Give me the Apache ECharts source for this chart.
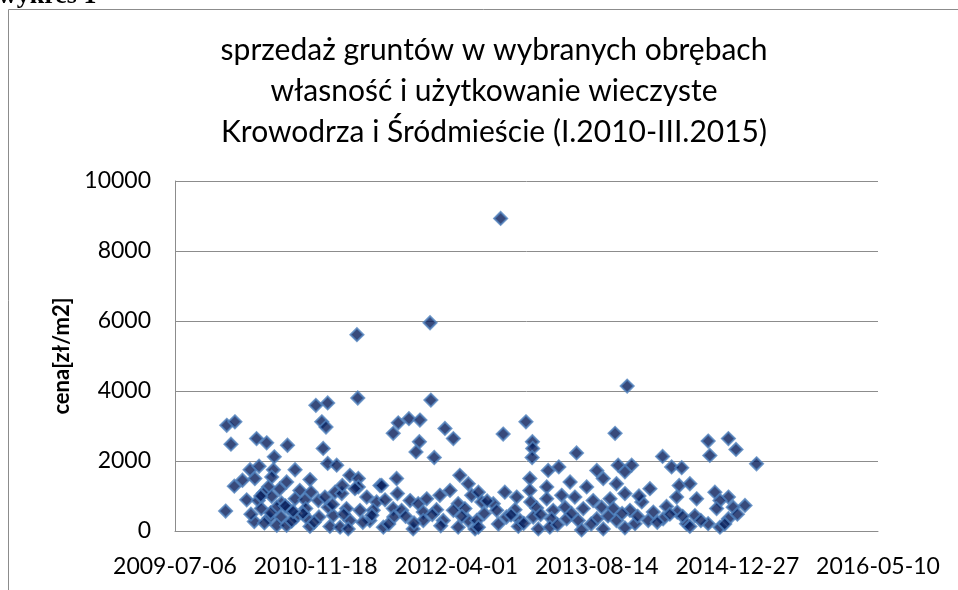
<!doctype html>
<html lang="pl">
<head>
    <meta charset="UTF-8">
    <title>wykres 1</title>
    <script src="https://cdn.jsdelivr.net/npm/echarts@6/dist/echarts.min.js"></script>
    <style>
        html, body { margin: 0; padding: 0; background: #fff; }
        #main { width: 958px; height: 590px; }
    </style>
</head>
<body>
<div id="main"></div>
<script type="text/javascript">
    // daty jako numery seryjne Excela (40000 = 2009-07-06)
    var saleDays = [
        41158, 40907, 40647, 40650, 40910, 41608, 40501, 40543, 40184, 40213,
        40522, 40537, 40794, 40832, 40871, 40960, 41248, 41167, 40199, 40290,
        40326, 40400, 40527, 40353, 40776, 40990, 40869, 40857, 40922, 41271,
        41272, 41270, 41428, 41565, 41896, 41902, 41968, 41995, 41734, 42068,
        40267, 40299, 40350, 40427, 40543, 40575, 40284, 40344, 40480, 40622,
        40652, 40788, 41013, 41043, 41327, 41365, 41500, 41523, 41262, 41576,
        41624, 41600, 41766, 41802, 41405,
        40211, 40397, 40332, 40444, 40314, 40484, 40569, 40593, 40652, 40729,
        40791, 40595, 40640, 40735, 40942, 40978, 41055, 41079, 41173, 41262,
        41322, 41464, 41570, 41689, 41793, 41831, 41600, 41920,
        40255, 40296, 40344, 40379, 40427, 40462, 40510, 40533, 40307, 40362,
        40403, 40465, 40545, 40180, 40682, 40717, 40747, 40836, 40865, 40895,
        41007, 40610, 40658, 40705, 40776, 40806, 40883, 40930, 40990, 41031,
        41215, 41091, 41132, 41265, 41322, 41375, 41422, 41487, 41547, 41144,
        41209, 41286, 41345, 41387, 41452, 41517, 41855, 41784, 41660, 41968,
        42027, 41938, 41985, 41559, 41618, 41701, 41748, 41786, 41926,
        40335, 40377, 40430, 40468, 40512, 40563, 40282, 40362, 40397, 40480,
        40551, 40587, 40622, 40693, 40778, 40883, 40954, 41043, 40616, 40741,
        40847, 41007, 41067, 41073, 41179, 41227, 41274, 41339, 41393, 41434,
        41500, 41079, 41221, 41292, 41333, 41446, 41523, 41849, 41968, 41570,
        41636, 41683, 41736, 41819, 41896, 41938, 41600, 41831,
        40270, 40318, 40340, 40372, 40392, 40415, 40455, 40495, 40560, 40600,
        40668, 40700, 40760, 40820, 40850, 40915, 40945, 41020, 41100, 41150,
        41195, 41240, 41300, 41360, 41410, 41480, 41540, 41590, 41645, 41715,
        41760, 41805, 41870, 41955, 42000, 40240, 40305, 40420, 41110, 41650
    ];
    // cena [zł/m2]
    var prices = [
        8930, 5950, 5610, 3800, 3740, 4140, 3590, 3660, 3020, 3120,
        3120, 2970, 3090, 3210, 3170, 2930, 3120, 2770, 2480, 2640,
        2520, 2450, 2360, 2120, 2790, 2640, 2550, 2260, 2100, 2550,
        2360, 2100, 2230, 2790, 2570, 2160, 2640, 2330, 2130, 1920,
        1750, 1850, 1750, 1750, 1930, 1880, 1500, 1540, 1470, 1590,
        1500, 1500, 1590, 1350, 1730, 1830, 1730, 1500, 1500, 1880,
        1880, 1690, 1830, 1810, 1400,
        1280, 1400, 1260, 1160, 1080, 1110, 1110, 1070, 1260, 1300,
        1070, 1300, 1210, 1300, 1020, 1160, 1020, 1110, 1110, 1160,
        1260, 1260, 1350, 1210, 1300, 1350, 1070, 1110,
        890, 870, 990, 800, 920, 890, 870, 970, 640, 680,
        640, 640, 680, 570, 970, 830, 890, 870, 780, 920,
        780, 640, 590, 590, 640, 590, 540, 610, 590, 640,
        970, 830, 780, 830, 920, 1020, 970, 870, 920, 590,
        610, 660, 590, 680, 640, 680, 920, 970, 830, 970,
        730, 870, 680, 640, 590, 540, 700, 540, 640,
        370, 400, 400, 380, 400, 440, 270, 160, 160, 130,
        130, 110, 300, 300, 400, 300, 300, 300, 60, 110,
        60, 110, 60, 300, 400, 300, 400, 350, 350, 300,
        350, 110, 130, 60, 110, 30, 60, 440, 350, 300,
        210, 300, 350, 210, 210, 110, 90, 130,
        480, 230, 520, 1200, 720, 280, 500, 250, 760, 480,
        250, 450, 200, 420, 230, 470, 150, 420, 500, 200,
        460, 220, 470, 180, 500, 200, 430, 500, 420, 250,
        480, 420, 300, 200, 480, 1450, 1000, 560, 860, 1000
    ];
    var titleLines = [
        'sprzedaż gruntów w wybranych obrębach',
        'własność i użytkowanie wieczyste',
        'Krowodrza i Śródmieście (I.2010-III.2015)'
    ];
    var yName = 'cena[zł/m2]';

    function formate(n){
        if(n<10) n = "0"+n;
        return n;
    }
    function serialToDate(s){
        var d = new Date(Date.UTC(1899, 11, 30) + s*86400000);
        return d.getUTCFullYear()+"-"+formate(d.getUTCMonth()+1)+"-"+formate(d.getUTCDate());
    }

    var points = [];
    for(var i=0;i<saleDays.length;i++){
        points.push([saleDays[i], prices[i]]);
    }

    var myChart = echarts.init(document.getElementById('main'));
    var option = {
        animation: false,
        backgroundColor: '#fff',
        textStyle: { fontFamily: 'Lato' },
        graphic: [
            {
                type: 'rect',
                shape: { x: 8.5, y: 9.5, width: 1000, height: 700 },
                style: { fill: 'none', stroke: '#8c8c8c', lineWidth: 1 }
            },
            {
                type: 'text',
                left: -2, top: -17,
                style: { text: 'wykres 1', font: 'bold 26px "Liberation Serif"', fill: '#000' }
            }
        ],
        title: {
            text: titleLines.join('\n'),
            left: 489, top: 25,
            textAlign: 'center',
            textStyle: { fontFamily: 'Lato', fontSize: 30, fontWeight: 'normal', color: '#000', lineHeight: 41 }
        },
        grid: { left: 175, top: 181, width: 703, height: 350 },
        xAxis: {
            type: 'value',
            min: 40000, max: 42500, interval: 500,
            axisLine: { show: true, lineStyle: { color: '#8c8c8c', width: 1 } },
            axisTick: { show: false },
            splitLine: { show: false },
            axisLabel: {
                color: '#000', fontSize: 23, margin: 24,
                formatter: function(v){ return serialToDate(v); }
            }
        },
        yAxis: {
            type: 'value',
            min: 0, max: 10000, interval: 2000,
            name: yName,
            nameLocation: 'middle',
            nameGap: 100,
            nameTextStyle: { color: '#000', fontSize: 22, fontWeight: 'bold' },
            axisLine: { show: true, lineStyle: { color: '#8c8c8c', width: 1 } },
            axisTick: { show: false },
            splitLine: { lineStyle: { color: '#8c8c8c', width: 1 } },
            axisLabel: {
                color: '#000', fontSize: 23, margin: 24,
                formatter: function(v){ return String(v); }
            }
        },
        series: [{
            type: 'scatter',
            data: points,
            symbol: 'diamond',
            symbolSize: 13,
            itemStyle: { color: '#061d5a', borderColor: '#4f81bd', borderWidth: 2 }
        }]
    };
    myChart.setOption(option);
</script>
</body>
</html>
